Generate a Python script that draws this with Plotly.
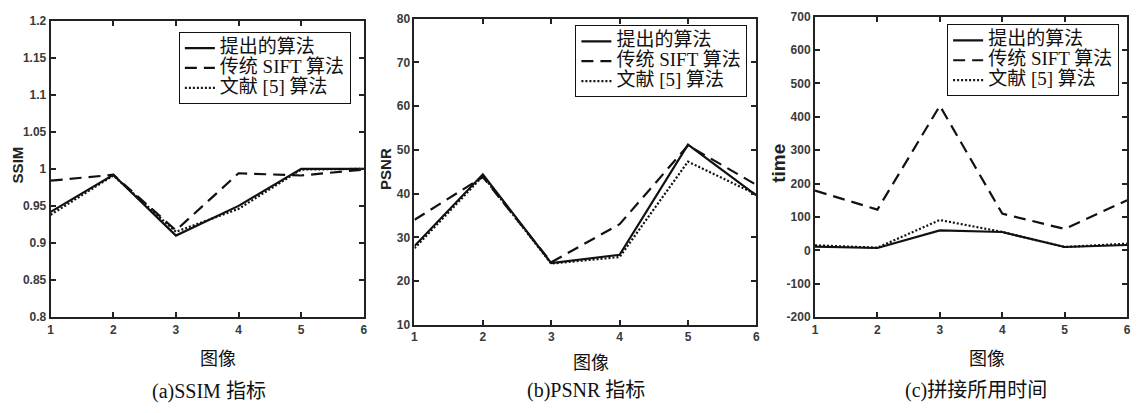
import plotly.graph_objects as go

W, H = 1144, 413

# ---------------- data ----------------
x_images = [1, 2, 3, 4, 5, 6]
series_names = ["提出的算法", "传统 SIFT 算法", "文献 [5] 算法"]

ssim_proposed = [0.942, 0.992, 0.910, 0.950, 1.000, 1.000]
ssim_sift = [0.984, 0.992, 0.917, 0.994, 0.991, 0.999]
ssim_ref5 = [0.938, 0.991, 0.915, 0.946, 0.999, 1.000]

psnr_proposed = [28.0, 44.4, 24.1, 26.0, 51.2, 39.6]
psnr_sift = [34.0, 43.8, 24.3, 33.0, 51.0, 42.0]
psnr_ref5 = [27.5, 44.0, 24.0, 25.5, 47.3, 39.8]

time_proposed = [11, 7, 60, 55, 10, 16]
time_sift = [179, 122, 433, 110, 64, 150]
time_ref5 = [15, 8, 91, 55, 10, 20]

ssim_ticks = [0.8, 0.85, 0.9, 0.95, 1.0, 1.05, 1.1, 1.15, 1.2]
ssim_ticktext = ["0.8", "0.85", "0.9", "0.95", "1", "1.05", "1.1", "1.15", "1.2"]
psnr_ticks = [10, 20, 30, 40, 50, 60, 70, 80]
time_ticks = [-200, -100, 0, 100, 200, 300, 400, 500, 600, 700]

y_titles = ["SSIM", "PSNR", "time"]
x_title = "图像"
captions = ["(a)SSIM 指标", "(b)PSNR 指标", "(c)拼接所用时间"]

# ---------------- layout helpers ----------------
def fx(px):
    return px / W

def fy(py):
    return 1 - py / H

panels = [
    dict(x=(48, 363), y=(14, 321), data=(ssim_proposed, ssim_sift, ssim_ref5),
         yr=[0.8, 1.2], tv=ssim_ticks, tt=ssim_ticktext, leg=(350, 26)),
    dict(x=(414, 758), y=(12, 329), data=(psnr_proposed, psnr_sift, psnr_ref5),
         yr=[10, 80], tv=psnr_ticks, tt=[str(v) for v in psnr_ticks], leg=(749, 19)),
    dict(x=(817, 1131), y=(10, 321), data=(time_proposed, time_sift, time_ref5),
         yr=[-200, 700], tv=time_ticks, tt=[str(v) for v in time_ticks], leg=(1123, 18)),
]

dashes = ["solid", "12px,7px", "2px,2px"]
line_color = "#111111"
tick_font = dict(family="Liberation Sans, Arial, sans-serif", size=12, color="#3a3a3a", weight="bold")
serif_cjk = "Liberation Serif, Times New Roman, Noto Sans CJK SC, serif"

fig = go.Figure()
layout = dict(
    width=W, height=H,
    margin=dict(l=0, r=0, t=0, b=0),
    paper_bgcolor="white", plot_bgcolor="white",
    showlegend=True,
)

for i, p in enumerate(panels):
    k = "" if i == 0 else str(i + 1)
    legname = "legend" + k
    for j, (name, vals) in enumerate(zip(series_names, p["data"])):
        fig.add_trace(go.Scatter(
            x=x_images, y=vals, mode="lines",
            name='<span style="font-size:19px">%s</span>' % name,
            line=dict(color=line_color, width=2.2, dash=dashes[j]),
            xaxis="x" + k, yaxis="y" + k, legend=legname,
        ))
    axcommon = dict(
        showgrid=False, zeroline=False, showline=True, linecolor="#222222",
        linewidth=2, mirror="ticks", ticks="inside", ticklen=5, tickwidth=1.5,
        tickcolor="#222222", tickfont=tick_font,
    )
    layout["xaxis" + k] = dict(
        domain=[fx(p["x"][0]), fx(p["x"][1])], anchor="y" + k, range=[1, 6],
        tickvals=x_images, ticktext=[str(v) for v in x_images], **axcommon,
    )
    layout["yaxis" + k] = dict(
        domain=[fy(p["y"][1]), fy(p["y"][0])], anchor="x" + k, range=p["yr"],
        tickvals=p["tv"], ticktext=p["tt"], **axcommon,
    )
    layout[legname] = dict(
        x=fx(p["leg"][0]), y=fy(p["leg"][1]), xanchor="right", yanchor="top",
        bgcolor="white", bordercolor="#111111", borderwidth=1,
        font=dict(family=serif_cjk, size=13, color="#111111"),
        tracegroupgap=0, itemwidth=30,
    )

fig.update_layout(**layout)

# axis titles and captions as annotations
ann = []
ytitle_pos = [(15, 163, 15), (385, 168, 15), (780, 162, 19)]
for t, (xp, yp, fs) in zip(y_titles, ytitle_pos):
    ann.append(dict(text="<b>%s</b>" % t, x=fx(xp), y=fy(yp), xref="paper", yref="paper",
                    showarrow=False, textangle=-90, xanchor="center", yanchor="middle",
                    font=dict(family="Liberation Sans, Arial, sans-serif", size=fs, color="#222222")))
xtitle_pos = [(216, 362), (592, 366), (990, 362)]
for xp, yp in xtitle_pos:
    ann.append(dict(text=x_title, x=fx(xp), y=fy(yp), xref="paper", yref="paper",
                    showarrow=False, xanchor="center", yanchor="middle",
                    font=dict(family="Noto Sans CJK SC, sans-serif", size=18, color="#111111")))
cap_pos = [(207, 398), (587, 397), (979, 397)]
for t, (xp, yp) in zip(captions, cap_pos):
    ann.append(dict(text=t, x=fx(xp), y=fy(yp), xref="paper", yref="paper",
                    showarrow=False, xanchor="center", yanchor="middle",
                    font=dict(family=serif_cjk, size=20, color="#111111")))
fig.update_layout(annotations=ann)

fig.write_html(
    "out.html",
    post_script="document.body.style.margin='0';document.body.style.overflow='hidden';",
    config={"displayModeBar": False},
)
